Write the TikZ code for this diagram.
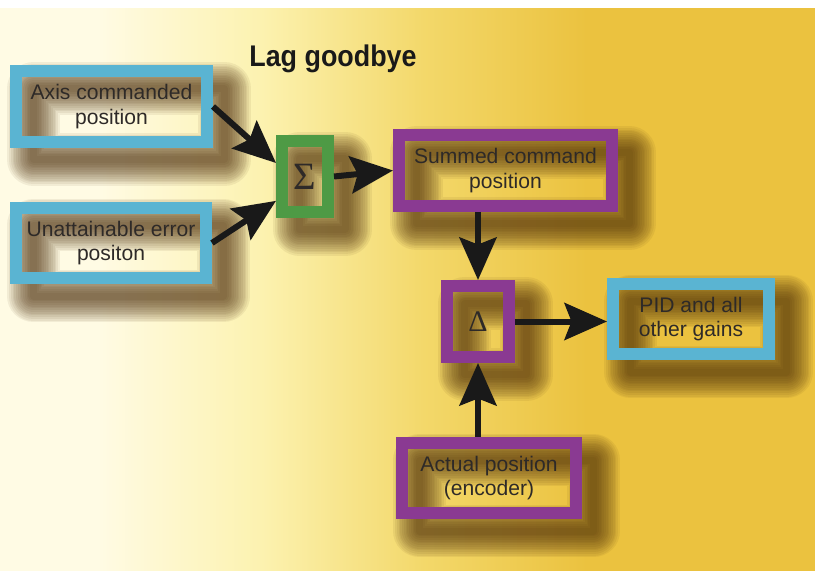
\documentclass[tikz,border=0pt]{standalone}
\usepackage{fontspec}
\setmainfont{Liberation Sans}
\newfontfamily\greekserif{Liberation Serif}
\usetikzlibrary{arrows.meta,shadows}

\definecolor{framecyan}{HTML}{5AB4D2}
\definecolor{framepurple}{HTML}{8A3A92}
\definecolor{framegreen}{HTML}{4E9A45}
\definecolor{shadowbrown}{HTML}{4A2A08}
\definecolor{labelgrey}{HTML}{2E2A28}
\definecolor{paperwhite}{HTML}{FFFBE4}
\definecolor{paperpale}{HTML}{FCF2B0}
\definecolor{paperyellow}{HTML}{F3D86A}
\definecolor{papergold}{HTML}{EBC23F}

\pgfdeclarehorizontalshading{paper}{100bp}{color(0bp)=(paperwhite); color(31bp)=(paperwhite); color(41bp)=(paperpale); color(51bp)=(paperyellow); color(61bp)=(papergold); color(100bp)=(papergold)}

\tikzset{
    haze/.style={general shadow={shadow xshift=10pt, shadow yshift=-10pt, draw=shadowbrown, line width=#1pt, line join=round, opacity=0.07}},
    boxshadow/.style={haze/.list={4,6,...,30}},
    stage/.style={draw=#1, line width=0.24cm, minimum height=1.42cm, inner sep=0pt, align=center, text=labelgrey, font=\fontsize{12}{14}\selectfont, boxshadow},
    flow/.style={-{Stealth[length=0.85cm, width=0.74cm, inset=0.14cm]}, line width=0.12cm, draw=black!90},
}

\begin{document}
\begin{tikzpicture}[x=0.02cm, y=-0.02cm]
        \shade[shading=paper] (0,0) rectangle (815,571);
        \fill[white] (0,0) rectangle (815,8);
        \path[use as bounding box] (0,0) rectangle (815,571);

        \node[text=black!90, font=\bfseries\fontsize{17}{17}\selectfont] (title) at (333,59) {\scalebox{0.9}[1]{Lag goodbye}};

        \node[stage=framecyan, minimum width=3.82cm] (axis) at (111.5,106.5) {Axis commanded\\position};
        \node[stage=framecyan, minimum width=3.80cm] (unatt) at (111,243) {Unattainable error\\positon};
        \node[stage=framegreen, minimum width=0.92cm, font=\greekserif\fontsize{22}{22}\selectfont] (sigma) at (305,176.5) {Σ};
        \node[stage=framepurple, minimum width=4.26cm] (summed) at (505.5,170.5) {Summed command\\position};
        \node[stage=framepurple, minimum width=1.24cm, font=\greekserif\fontsize{17}{17}\selectfont] (delta) at (478,321.5) {Δ};
        \node[stage=framecyan, minimum width=3.12cm] (pid) at (691,319) {PID and all\\other gains};
        \node[stage=framepurple, minimum width=3.48cm] (actual) at (489,478) {Actual position\\(encoder)};

        \path (axis.east) edge[flow] (sigma.155);
        \path (unatt.east) edge[flow] (sigma.220);
        \path (sigma.east) edge[flow] (summed.west);
        \path (delta.north |- summed.south) edge[flow] (delta.north);
        \path (delta.south |- actual.north) edge[flow] (delta.south);
        \path (delta.east) edge[flow] (pid.west |- delta.east);
    \end{tikzpicture}
\end{document}
